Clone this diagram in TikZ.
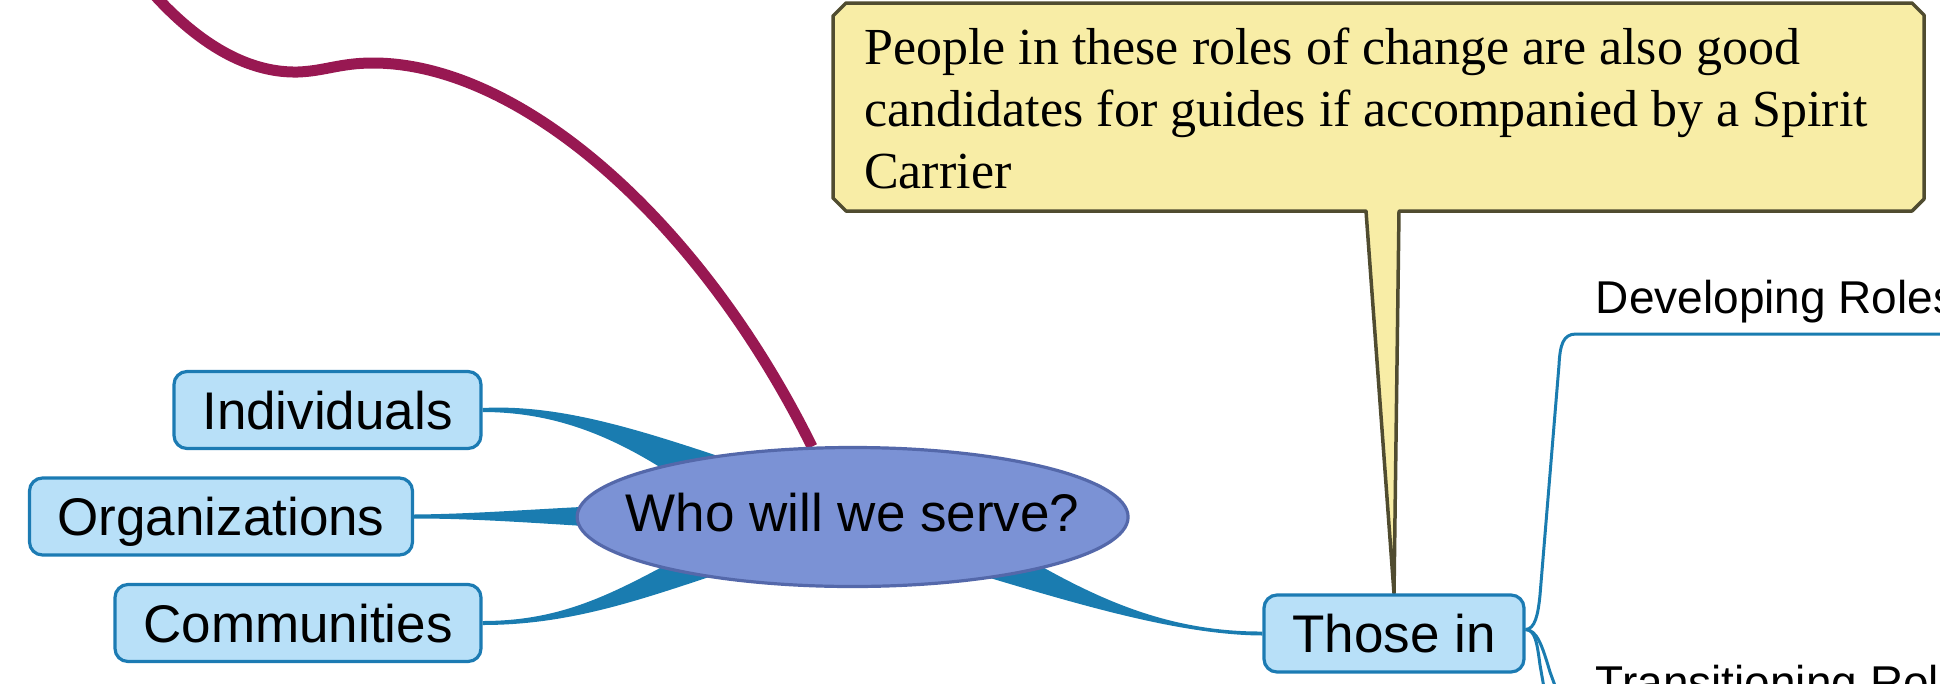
\documentclass[tikz,border=0pt]{standalone}
\usepackage{fontspec}
\setmainfont{Liberation Sans}
\newfontfamily\notefont{Liberation Serif}
\usetikzlibrary{shapes.geometric,calc}
\definecolor{boxfill}{HTML}{B8E0F8}
\definecolor{boxline}{HTML}{1C7BB3}
\definecolor{wedgecol}{HTML}{1A7CB0}
\definecolor{ellfill}{HTML}{7B92D5}
\definecolor{ellline}{HTML}{5468AA}
\definecolor{notefill}{HTML}{F8EDA6}
\definecolor{noteline}{HTML}{504C30}
\definecolor{relcol}{HTML}{981852}
\pgfdeclarelayer{bg}
\pgfsetlayers{bg,main}
\begin{document}
\begin{tikzpicture}[x=1pt,y=-1pt,
  topic/.style={draw=boxline, fill=boxfill, line width=3.2pt, rounded corners=13pt,
    inner sep=0pt, minimum height=77pt, text height=38pt, text depth=0pt,
    font=\fontsize{53}{60}\selectfont},
  central/.style={ellipse, draw=ellline, fill=ellfill, line width=3.2pt,
    minimum width=551pt, minimum height=139pt, inner sep=0pt,
    text height=38pt, text depth=9pt, font=\fontsize{53}{60}\selectfont},
  subtopic/.style={inner sep=0pt, anchor=base west, font=\fontsize{46}{52}\selectfont},
  taper/.style={fill=wedgecol, draw=none},
  thinline/.style={draw=wedgecol, line width=3pt, line join=round},
  relline/.style={draw=relcol, line width=11pt},
  callout/.style={fill=notefill, draw=noteline, line width=3.5pt, line join=round},
  notetext/.style={anchor=base west, align=left, inner sep=0pt,
    font=\notefont\fontsize{52}{61.7}\selectfont}
]
\useasboundingbox (0,0) rectangle (1940,683);
\clip (0,0) rectangle (1940,683);

% nodes
\node[central] (who) at (852.6,517) {\makebox[0pt]{Who will we serve?}};
\node[topic, minimum width=307pt] (ind) at (327.5,410) {Individuals};
\node[topic, minimum width=383pt] (org) at (221,516.5) {Organizations};
\node[topic, minimum width=366pt] (com) at (298,623) {Communities};
\node[topic, minimum width=260pt] (those) at (1394,633.5) {Those in};
\node[subtopic] (dev) at (1595.7,313.3) {Developing Roles};
\node[subtopic] (trans) at (1595.5,698) {Transitioning Roles};
\node[notetext] (note) at (864,188.3) {People in these roles of change are also good\\candidates for guides if accompanied by a Spirit\\Carrier};

\coordinate (reltop) at (150,-10);
\coordinate (devend) at (1950,334);
\coordinate (trend1) at (1547,705);
\coordinate (trend2) at (1562,705);

\begin{pgfonlayer}{bg}
% callout with tail pointing to "Those in"
\filldraw[callout] (846,3) -- (1912,3) -- (1924,15) -- (1924,199) -- (1912,211)
  -- (1399,211) -- (those.north) -- (1366,211) -- (846,211) -- (833,198)
  -- (833,16) -- cycle;

% tapered branches
\fill[taper] ($(ind.east)+(0,-2)$) .. controls (560,404) and (640,430) .. ($(who.center)+(-122.6,-57)$)
  -- ($(who.center)+(-172.6,-37)$) .. controls (620,440) and (560,412) .. ($(ind.east)+(0,2)$) -- cycle;
\fill[taper] ($(org.east)+(0,-2)$) .. controls (470,514) and (520,510) .. ($(who.center)+(-252.6,-11)$)
  -- ($(who.center)+(-252.6,10)$) .. controls (520,522) and (470,518.5) .. ($(org.east)+(0,2)$) -- cycle;
\fill[taper] ($(com.east)+(0,-2)$) .. controls (560,621) and (610,595) .. ($(who.center)+(-177.6,43)$)
  -- ($(who.center)+(-122.6,53)$) .. controls (640,600) and (570,625) .. ($(com.east)+(0,2)$) -- cycle;
\fill[taper] ($(who.center)+(177.4,43)$) .. controls (1100,600) and (1170,632) .. ($(those.west)+(0,-2)$)
  -- ($(those.west)+(0,2)$) .. controls (1180,635) and (1080,605) .. ($(who.center)+(117.4,55)$) -- cycle;

% relationship line
\draw[relline] (reltop) .. controls (205,52) and (255,73) .. (298,72)
  .. controls (325,71) and (340,63) .. (373,63)
  .. controls (520,63) and (700,220) .. (who.120);

% thin branches of "Those in"
\draw[thinline] ($(those.east)+(0,-4)$) .. controls (1535,629) and (1538,615) .. (1540,595)
  -- (1559,365) .. controls (1560,345) and (1563,334) .. (1576,334) -- (devend);
\draw[thinline] ($(those.east)+(0,-4)$) .. controls (1535,630) and (1537,642) .. (1540,665) -- (trend1);
\draw[thinline] ($(those.east)+(0,-4)$) .. controls (1537,630) and (1542,645) .. (1550,672) -- (trend2);
\end{pgfonlayer}
\end{tikzpicture}
\end{document}
